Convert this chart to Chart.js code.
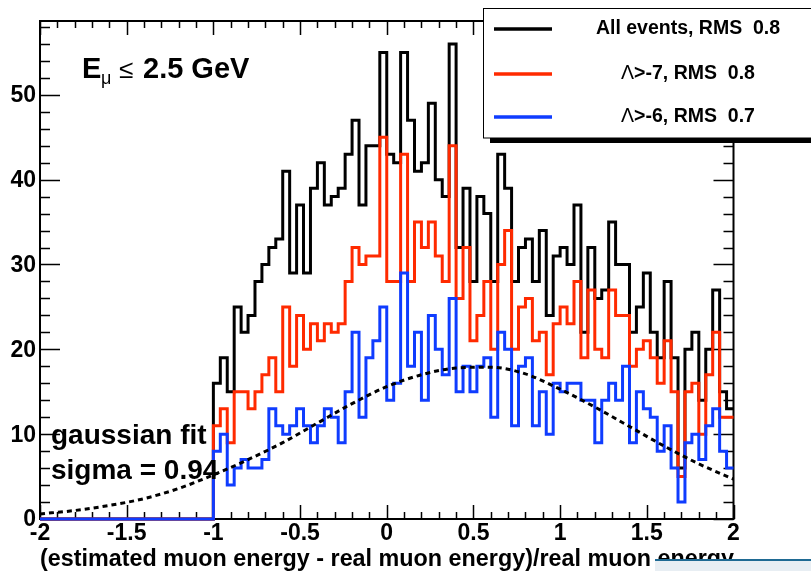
<!DOCTYPE html>
<html>
<head>
<meta charset="utf-8">
<script src="https://cdn.jsdelivr.net/npm/chart.js@4.4.1/dist/chart.umd.min.js"></script>
<style>
  body { margin: 0; background: #fff; }
  #myChart { display: block; }
</style>
</head>
<body>
<canvas id="myChart" width="811" height="571"></canvas>
<script>
// histogram bins: width 0.04, filled from -1 to 2 (empty from -2 to -1)
const binStart = -1;
const binWidth = 0.04;

const allEvents = [
    16, 19, 15, 25, 22, 24, 28, 30, 32, 33,
    41, 29, 37, 29, 39, 42, 37, 38, 39, 43,
    47, 37, 44, 44, 55, 43, 42, 55, 47, 41,
    42, 49, 40, 38, 56, 32, 39, 28, 38, 36,
    28, 43, 39, 28, 32, 33, 28, 34, 24, 31,
    32, 30, 37, 22, 32, 26, 27, 35, 30, 30,
    22, 25, 29, 22, 19, 28, 19, 6, 20, 22,
    14, 20, 27, 15, 13
];

const lambdaGt7 = [
    11, 13, 9, 15, 15, 13, 15, 17, 19, 15,
    25, 18, 24, 20, 23, 21, 23, 22, 23, 28,
    32, 30, 31, 31, 45, 28, 28, 43, 28, 35,
    32, 35, 31, 28, 44, 26, 32, 21, 24, 28,
    20, 30, 34, 20, 25, 26, 21, 22, 17, 23,
    25, 23, 28, 19, 27, 20, 19, 27, 24, 24,
    18, 20, 21, 19, 16, 21, 15, 5, 15, 16,
    10, 17, 22, 12, 12
];

const lambdaGt6 = [
    8, 10, 4, 6, 7, 6, 6, 7, 13, 11,
    10, 11, 13, 11, 9, 11, 13, 12, 9, 15,
    22, 12, 19, 21, 25, 14, 16, 29, 18, 22,
    14, 24, 20, 17, 26, 15, 18, 15, 18, 19,
    12, 22, 20, 11, 18, 19, 11, 15, 10, 16,
    15, 16, 16, 14, 14, 9, 14, 16, 14, 18,
    9, 15, 13, 12, 8, 11, 6, 2, 9, 10,
    7, 11, 13, 8, 6
];

// gaussian fit curve
const fitX = [-2, -1.8, -1.6, -1.4, -1.2, -1, -0.8, -0.6, -0.4, -0.2, 0,
              0.2, 0.4, 0.6, 0.8, 1, 1.2, 1.4, 1.6, 1.8, 2];
const fitY = [0.6, 1.0, 1.6, 2.4, 3.6, 5.2, 7.0, 9.0, 11.3, 13.6, 15.6,
              17.0, 17.8, 17.9, 17.1, 15.3, 13.2, 10.9, 8.6, 6.5, 4.7];

const xTickLabels = ['-2', '-1.5', '-1', '-0.5', '0', '0.5', '1', '1.5', '2'];
const yTickLabels = ['0', '10', '20', '30', '40', '50'];

const legendNames = ['All events, RMS  0.8', 'Λ>-7, RMS  0.8', 'Λ>-6, RMS  0.7'];
const colors = ['#000000', '#ff2a00', '#0f3cff'];

function toSteps(counts) {
    const pts = [{x: -2, y: 0}];
    counts.forEach((c, i) => pts.push({x: binStart + i * binWidth, y: c}));
    pts.push({x: 2, y: counts[counts.length - 1]});
    return pts;
}

const FONT = "'Liberation Sans', Arial, 'DejaVu Sans', sans-serif";

const decor = {
    id: 'decor',
    beforeDraw(chart) {
        const ctx = chart.ctx;
        ctx.save();
        ctx.fillStyle = '#fff';
        ctx.fillRect(0, 0, chart.width, chart.height);
        ctx.restore();
    },
    beforeDatasetsDraw(chart) {
        const ctx = chart.ctx;
        const a = chart.chartArea;
        const xs = chart.scales.x, ys = chart.scales.y;
        ctx.save();
        ctx.strokeStyle = '#000';
        ctx.lineWidth = 2;
        ctx.strokeRect(a.left, a.top, a.right - a.left, a.bottom - a.top);
        ctx.lineWidth = 1.5;
        ctx.beginPath();
        for (let k = 0; k <= 29; k++) {
            const v = k * 2;
            const py = Math.round(ys.getPixelForValue(v)) + 0.5;
            const len = v % 10 === 0 ? 20 : 10;
            ctx.moveTo(a.left, py); ctx.lineTo(a.left + len, py);
            ctx.moveTo(a.right, py); ctx.lineTo(a.right - len, py);
        }
        for (let k = 0; k <= 40; k++) {
            const v = -2 + k * 0.1;
            const px = Math.round(xs.getPixelForValue(v)) + 0.5;
            const len = k % 5 === 0 ? 14 : 7;
            ctx.moveTo(px, a.bottom); ctx.lineTo(px, a.bottom - len);
            ctx.moveTo(px, a.top); ctx.lineTo(px, a.top + len);
        }
        ctx.stroke();
        ctx.restore();
    },
    afterDatasetsDraw(chart) {
        const ctx = chart.ctx;
        const a = chart.chartArea;
        const xs = chart.scales.x, ys = chart.scales.y;
        ctx.save();
        ctx.fillStyle = '#000';

        // tick labels
        ctx.font = 'bold 23px ' + FONT;
        ctx.textAlign = 'center';
        ctx.textBaseline = 'top';
        xTickLabels.forEach(t => ctx.fillText(t, xs.getPixelForValue(parseFloat(t)), a.bottom + 3));
        ctx.textAlign = 'right';
        ctx.textBaseline = 'middle';
        yTickLabels.forEach(t => ctx.fillText(t, a.left - 4, ys.getPixelForValue(parseFloat(t)) + 1));

        // axis title
        ctx.font = 'bold 23.5px ' + FONT;
        ctx.textAlign = 'left';
        ctx.textBaseline = 'alphabetic';
        ctx.fillText('(estimated muon energy - real muon energy)/real muon energy', 40, 566, 694);

        // E_mu label
        ctx.font = 'bold 29px ' + FONT;
        ctx.fillText('E', 82, 78);
        ctx.font = '18px ' + FONT;
        ctx.fillText('μ', 101, 84);
        ctx.font = '26px ' + FONT;
        ctx.fillText('≤', 119, 78);
        ctx.font = 'bold 29px ' + FONT;
        ctx.fillText('2.5 GeV', 143, 78);

        // fit annotation
        ctx.font = 'bold 28px ' + FONT;
        ctx.fillText('gaussian fit', 51, 444);
        ctx.fillText('sigma = 0.94', 51, 479);

        // legend box
        ctx.fillStyle = '#000';
        ctx.fillRect(490, 138, 330, 5);
        ctx.fillStyle = '#fff';
        ctx.fillRect(483.5, 8.5, 340, 129.5);
        ctx.strokeStyle = '#000';
        ctx.lineWidth = 1;
        ctx.strokeRect(483.5, 8.5, 340, 129.5);
        const rows = [29, 74, 117];
        legendNames.forEach((name, i) => {
            ctx.strokeStyle = colors[i];
            ctx.lineWidth = 3.5;
            ctx.beginPath();
            ctx.moveTo(494, rows[i]);
            ctx.lineTo(552, rows[i]);
            ctx.stroke();
            ctx.fillStyle = '#000';
            ctx.textBaseline = 'middle';
            ctx.textAlign = 'left';
            if (name.startsWith('Λ')) {
                const rest = name.slice(1);
                ctx.font = '19.5px ' + FONT;
                const w1 = ctx.measureText('Λ').width;
                ctx.font = 'bold 19.5px ' + FONT;
                const w2 = ctx.measureText(rest).width;
                const x0 = 688 - (w1 + w2) / 2;
                ctx.font = '19.5px ' + FONT;
                ctx.fillText('Λ', x0, rows[i]);
                ctx.font = 'bold 19.5px ' + FONT;
                ctx.fillText(rest, x0 + w1, rows[i]);
            } else {
                ctx.font = 'bold 19.5px ' + FONT;
                ctx.textAlign = 'center';
                ctx.fillText(name, 688, rows[i]);
            }
        });

        // slide edge in the lower right corner
        ctx.fillStyle = '#e8eef3';
        ctx.fillRect(655, 560, 160, 12);
        ctx.fillStyle = '#1f6a93';
        ctx.fillRect(655, 559, 160, 2);
        ctx.restore();
    }
};

const config = {
    type: 'line',
    data: {
        datasets: [
            {
                label: 'fit',
                data: fitX.map((x, i) => ({x: x, y: fitY[i]})),
                borderColor: '#000',
                borderWidth: 3,
                borderDash: [5, 4],
                pointRadius: 0,
                cubicInterpolationMode: 'monotone',
                order: 1,
                clip: 4
            },
            {
                label: legendNames[2],
                data: toSteps(lambdaGt6),
                borderColor: colors[2],
                borderWidth: 3,
                stepped: 'before',
                pointRadius: 0,
                order: 2,
                clip: 4
            },
            {
                label: legendNames[1],
                data: toSteps(lambdaGt7),
                borderColor: colors[1],
                borderWidth: 3,
                stepped: 'before',
                pointRadius: 0,
                order: 3,
                clip: 4
            },
            {
                label: legendNames[0],
                data: toSteps(allEvents),
                borderColor: colors[0],
                borderWidth: 3,
                stepped: 'before',
                pointRadius: 0,
                order: 4,
                clip: 4
            }
        ]
    },
    options: {
        responsive: false,
        animation: false,
        devicePixelRatio: 1,
        layout: {padding: {left: 40, right: 77.5, top: 21, bottom: 52}},
        plugins: {legend: {display: false}, tooltip: {enabled: false}},
        scales: {
            x: {type: 'linear', min: -2, max: 2, display: false},
            y: {type: 'linear', min: 0, max: 58.7, display: false}
        }
    },
    plugins: [decor]
};

const myChart = new Chart(document.getElementById('myChart'), config);
</script>
</body>
</html>
